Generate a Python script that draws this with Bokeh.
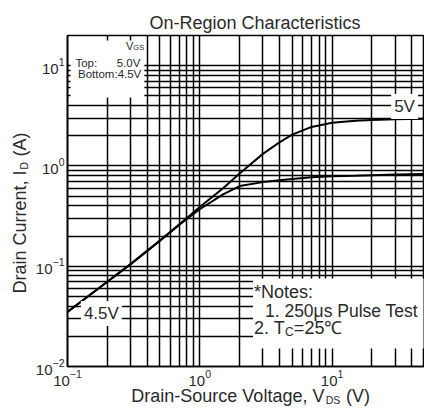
import math
from bokeh.plotting import figure
from bokeh.models import FixedTicker, Label, BoxAnnotation, Range1d
from bokeh.embed import file_html
from bokeh.resources import INLINE

# ---- data ----
vds = [0.1, 0.2, 0.3, 0.5, 0.7, 1.0, 1.5, 2.0, 3.0, 4.0, 5.0, 7.0, 10.0, 15.0, 20.0, 30.0, 50.0]
id_5v = [0.035, 0.07, 0.105, 0.18, 0.26, 0.39, 0.6, 0.84, 1.32, 1.72, 2.05, 2.45, 2.7, 2.82, 2.88, 2.92, 2.96]
id_45v = [0.035, 0.07, 0.105, 0.18, 0.26, 0.37, 0.52, 0.63, 0.69, 0.72, 0.74, 0.77, 0.79, 0.8, 0.81, 0.82, 0.83]

x_major = [0.1, 1, 10]
x_minor = [0.2, 0.3, 0.4, 0.5, 0.6, 0.7, 0.8, 0.9, 2, 3, 4, 5, 6, 7, 8, 9, 20, 30, 40]
y_major = [0.01, 0.1, 1, 10]
y_minor = [0.02, 0.03, 0.04, 0.05, 0.06, 0.07, 0.08, 0.09,
           0.2, 0.3, 0.4, 0.5, 0.6, 0.7, 0.8, 0.9,
           2, 3, 4, 5, 6, 7, 8, 9]

title_text = "On-Region Characteristics"
curve_labels = ["5V", "4.5V"]

# ---- layout ----
W, H = 424, 412
BL, BR, BT, BB = 66, 0, 35, 46
XMIN, XMAX = 0.1, 50.0
YMIN, YMAX = 0.01, 20.0
FL, FR = BL, W - BR      # pixel coords of frame
FT, FB = BT, H - BB

def dx(px):
    return 10 ** (math.log10(XMIN) + (px - FL) / (FR - FL) * math.log10(XMAX / XMIN))

def dy(py):
    return 10 ** (math.log10(YMAX) - (py - FT) / (FB - FT) * math.log10(YMAX / YMIN))

FONT = "Liberation Sans"
TXT = "#2a2a2a"

p = figure(width=W, height=H, x_axis_type="log", y_axis_type="log",
           x_range=Range1d(XMIN, XMAX), y_range=Range1d(YMIN, YMAX),
           output_backend="svg", toolbar_location=None,
           min_border_left=BL, min_border_right=BR, min_border_top=BT, min_border_bottom=BB)
p.background_fill_color = "white"
p.border_fill_color = "white"
p.outline_line_color = "black"
p.outline_line_width = 1.6

p.xaxis.ticker = FixedTicker(ticks=x_major, minor_ticks=x_minor)
p.yaxis.ticker = FixedTicker(ticks=y_major, minor_ticks=y_minor)
for ax in (p.xaxis, p.yaxis):
    ax.axis_line_color = "black"
    ax.axis_line_width = 1.6
    ax.major_tick_in = 0
    ax.major_tick_out = 0
    ax.minor_tick_in = 0
    ax.minor_tick_out = 0
    ax.major_label_text_font = FONT
    ax.major_label_text_font_size = "15px"
    ax.major_label_text_color = TXT
p.xaxis.major_label_standoff = 3
p.yaxis.major_label_standoff = 3

for g in (p.xgrid, p.ygrid):
    g.grid_line_color = "black"
    g.grid_line_width = 1.5
    g.grid_line_alpha = 1.0
    g.minor_grid_line_color = "black"
    g.minor_grid_line_width = 1.5
    g.minor_grid_line_alpha = 1.0

p.line(vds, id_5v, line_color="black", line_width=2)
p.line(vds, id_45v, line_color="black", line_width=2)

# white boxes covering the grid
for (l, r, t, b) in [(69, 143, 40, 97), (252, 423, 278, 348)]:
    p.add_layout(BoxAnnotation(left=dx(l), right=dx(r), top=dy(t), bottom=dy(b),
                               fill_color="white", fill_alpha=1.0, line_color=None))

def lab(text, px, py, size, align="left", baseline="middle", angle=0, bg=None, pad=0, side=None):
    kw = {}
    if bg:
        kw["background_fill_color"] = bg
        kw["padding"] = pad
    label = Label(x=dx(px), y=dy(py), text=text, text_font=FONT,
                  text_font_size=f"{size}px", text_color=TXT,
                  text_align=align, text_baseline=baseline, angle=angle, **kw)
    if side is None:
        p.add_layout(label)
    else:
        p.add_layout(label, side)

# curve labels
lab(curve_labels[0], 404, 106, 17, align="center", bg="white", pad=3)
lab(curve_labels[1], 100, 313, 17, align="center", bg="white", pad=3)

# legend box text
lab("V", 132, 45, 11, align="right")
lab("GS", 132, 47, 7.5)
lab("Top:", 74, 62, 11.5)
lab("5.0V", 139, 62, 11.5, align="right")
lab("Bottom:4.5V", 140, 73, 11.5, align="right")

# notes
lab("*Notes:", 253, 291, 18)
lab("1. 250\u03bcs Pulse Test", 264, 310, 17.5)
lab("2. T", 253, 327, 18)
lab("C", 284, 331, 12)
lab("=25\u2103", 293, 327, 18)

# texts outside the frame live in side panels (so they are not clipped)
lab(title_text, 254, 22, 18, align="center", side="above")

# x axis label: main text (gap left for the subscript) + subscript
lab("Drain-Source Voltage, V\u2003\u2009(V)", 130, 395, 18, side="below")
lab("DS", 325, 399, 10.5, side="above")

# y axis label (rotated): main text + subscript
half = math.pi / 2
lab("Drain Current, I\u2002 (A)", 18, 293, 18, angle=half, side="left")
lab("D", 22, 169, 10.5, angle=half, side="left")

open("out.html", "w").write(file_html(p, INLINE))
